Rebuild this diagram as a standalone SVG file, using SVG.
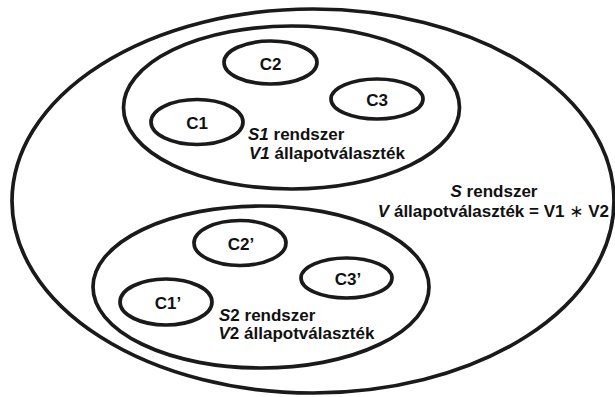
<svg xmlns="http://www.w3.org/2000/svg" width="615" height="397" viewBox="0 0 615 397">
<style>
.e{fill:none;stroke:#1a1a1a;stroke-width:3.7}
text{font-family:"Liberation Sans",Arial,sans-serif;font-weight:bold;font-size:17px;fill:#111}
.c{text-anchor:middle}
.i{font-style:italic}
</style>
<rect width="615" height="397" fill="#fff"/>
<g id="S">
<ellipse class="e" cx="313" cy="201" rx="301" ry="192"/>
<text class="c" x="494" y="197"><tspan class="i">S</tspan> rendszer</text>
<text x="609" y="217" text-anchor="end"><tspan class="i">V</tspan> állapotválaszték = V1 <tspan font-family="'DejaVu Sans',sans-serif" font-weight="normal">∗</tspan>  V2</text>
</g>
<g id="S1">
<ellipse class="e" cx="291.5" cy="107.5" rx="168" ry="81.5"/>
<text x="248" y="140"><tspan class="i">S1</tspan> rendszer</text>
<text x="249" y="158.5"><tspan class="i">V1</tspan> állapotválaszték</text>
</g>
<g id="C1"><ellipse class="e" cx="197" cy="122" rx="46" ry="22.5"/><text class="c" x="197" y="128.5">C1</text></g>
<g id="C2"><ellipse class="e" cx="270.5" cy="62.5" rx="46.5" ry="21.5"/><text class="c" x="270.5" y="69.5">C2</text></g>
<g id="C3"><ellipse class="e" cx="377" cy="99" rx="46" ry="20"/><text class="c" x="377" y="106">C3</text></g>
<g id="S2">
<ellipse class="e" cx="261" cy="287" rx="168" ry="81"/>
<text x="219" y="321"><tspan class="i">S</tspan>2 rendszer</text>
<text x="218.5" y="338.5"><tspan class="i">V</tspan>2 állapotválaszték</text>
</g>
<g id="C1p"><ellipse class="e" cx="166" cy="302" rx="46" ry="23"/><text class="c" x="168" y="308.5">C1’</text></g>
<g id="C2p"><ellipse class="e" cx="240" cy="243" rx="46" ry="22.5"/><text class="c" x="241" y="250">C2’</text></g>
<g id="C3p"><ellipse class="e" cx="346.5" cy="278" rx="45.5" ry="20"/><text class="c" x="348" y="285">C3’</text></g>
<g id="connectors"/>
</svg>
